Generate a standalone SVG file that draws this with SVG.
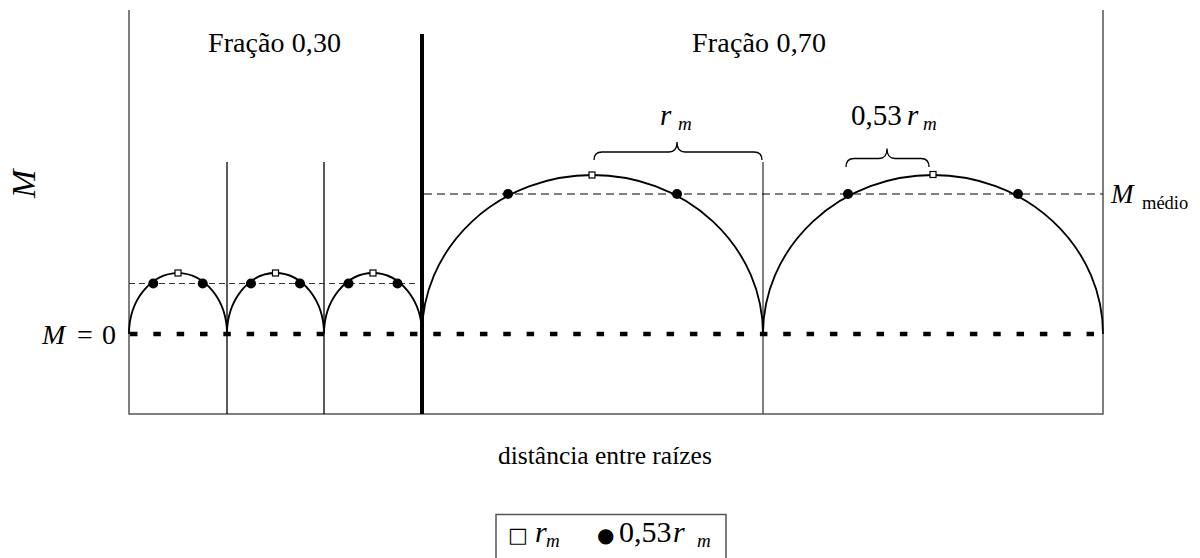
<svg xmlns="http://www.w3.org/2000/svg" width="1200" height="558" viewBox="0 0 1200 558">
<style>
.t{font-family:"Liberation Serif","DejaVu Serif",serif;fill:#000}
.i{font-style:italic}
.sym{font-family:"DejaVu Sans",sans-serif}
.frame{stroke:#555;stroke-width:1.5;fill:none}
.thin{stroke:#000;stroke-width:1.3;fill:none}
.arc{stroke:#000;stroke-width:1.8;fill:none}
.dot{fill:#000}
.sq{fill:#fff;stroke:#000;stroke-width:1.2}
.brace{stroke:#000;stroke-width:1.3;fill:none}
</style>
<rect width="1200" height="558" fill="#fff"/>
<g id="frame">
<path class="frame" d="M129,10 V414 H1103 V10"/>
<line x1="763" y1="162" x2="763" y2="414" stroke="#555" stroke-width="1.5"/>
<line class="thin" x1="227" y1="162" x2="227" y2="414"/>
<line class="thin" x1="324" y1="162" x2="324" y2="414"/>
<line x1="422" y1="34" x2="422" y2="414" stroke="#000" stroke-width="4"/>
</g>
<g id="connectors">
<line x1="129" y1="283.5" x2="418" y2="283.5" stroke="#333" stroke-width="1.2" stroke-dasharray="6 4"/>
<line x1="424" y1="194" x2="1103" y2="194" stroke="#000" stroke-width="1.2" stroke-dasharray="8 5"/>
<line x1="130" y1="334" x2="1103" y2="334" stroke="#000" stroke-width="4.5" stroke-dasharray="7.5 15.83"/>
</g>
<g id="arcs-small">
<path class="arc" d="M129,334 A49,61 0 0 1 227,334"/>
<path class="arc" d="M227,334 A48.5,61 0 0 1 324,334"/>
<path class="arc" d="M324,334 A49,61 0 0 1 422,334"/>
</g>
<g id="arcs-large">
<path class="arc" d="M422,334 A170.5,159 0 0 1 763,334"/>
<path class="arc" d="M763,334 A170,159 0 0 1 1103,334"/>
</g>
<g id="markers">
<circle class="dot" cx="153.3" cy="283.5" r="5"/>
<circle class="dot" cx="202.7" cy="283.5" r="5"/>
<circle class="dot" cx="251" cy="283.5" r="5"/>
<circle class="dot" cx="300" cy="283.5" r="5"/>
<circle class="dot" cx="348.5" cy="283.5" r="5"/>
<circle class="dot" cx="397.5" cy="283.5" r="5"/>
<circle class="dot" cx="508" cy="194" r="5"/>
<circle class="dot" cx="677" cy="194" r="5"/>
<circle class="dot" cx="848" cy="194" r="5"/>
<circle class="dot" cx="1018" cy="194" r="5"/>
<rect class="sq" x="175" y="270" width="6" height="6"/>
<rect class="sq" x="272.5" y="270" width="6" height="6"/>
<rect class="sq" x="370" y="270" width="6" height="6"/>
<rect class="sq" x="589" y="172" width="6" height="6"/>
<rect class="sq" x="930" y="171.5" width="6" height="6"/>
</g>
<g id="braces">
<path class="brace" d="M594,160 Q594,152 602,152 L669,152 Q677,152 677,142 Q677,152 685,152 L754,152 Q762,152 762,160"/>
<path class="brace" d="M846,167 Q846,158.5 854,158.5 L879,158.5 Q887,158.5 887,148.5 Q887,158.5 895,158.5 L921,158.5 Q929,158.5 929,167"/>
</g>
<g id="labels">
<text class="t" x="208" y="52" font-size="28" textLength="133">Fração 0,30</text>
<text class="t" x="692" y="52" font-size="28" textLength="134">Fração 0,70</text>
<text class="t" x="498" y="464" font-size="25.5">distância entre raízes</text>
<text class="t i" font-size="34" transform="translate(35,198) rotate(-90)">M</text>
<text class="t" font-size="28" y="344"><tspan class="i" x="42">M</tspan><tspan x="77">=</tspan><tspan x="102">0</tspan></text>
<text class="t" y="203"><tspan class="i" x="1111" font-size="27">M</tspan><tspan x="1142" y="209" font-size="18.5">médio</tspan></text>
<text class="t" y="125"><tspan class="i" x="660" font-size="29">r</tspan><tspan class="i" x="678" y="130" font-size="19">m</tspan></text>
<text class="t" y="125"><tspan x="851" font-size="29">0,53</tspan><tspan class="i" x="907" font-size="29">r</tspan><tspan class="i" x="923" y="130" font-size="19">m</tspan></text>
</g>
<g id="legend">
<rect x="496" y="514.5" width="230" height="60" fill="#fff" stroke="#555" stroke-width="1.5"/>
<text class="t" y="541.5"><tspan class="sym" x="508" font-size="21">□</tspan><tspan class="i" x="535" font-size="30">r</tspan><tspan class="i" x="546" y="547" font-size="19">m</tspan></text>
<text class="t" y="541.5"><tspan class="sym" x="597" font-size="20">●</tspan><tspan x="619" font-size="30">0,53</tspan><tspan class="i" x="673" font-size="30">r</tspan><tspan class="i" x="697" y="547" font-size="19">m</tspan></text>
</g>
</svg>
